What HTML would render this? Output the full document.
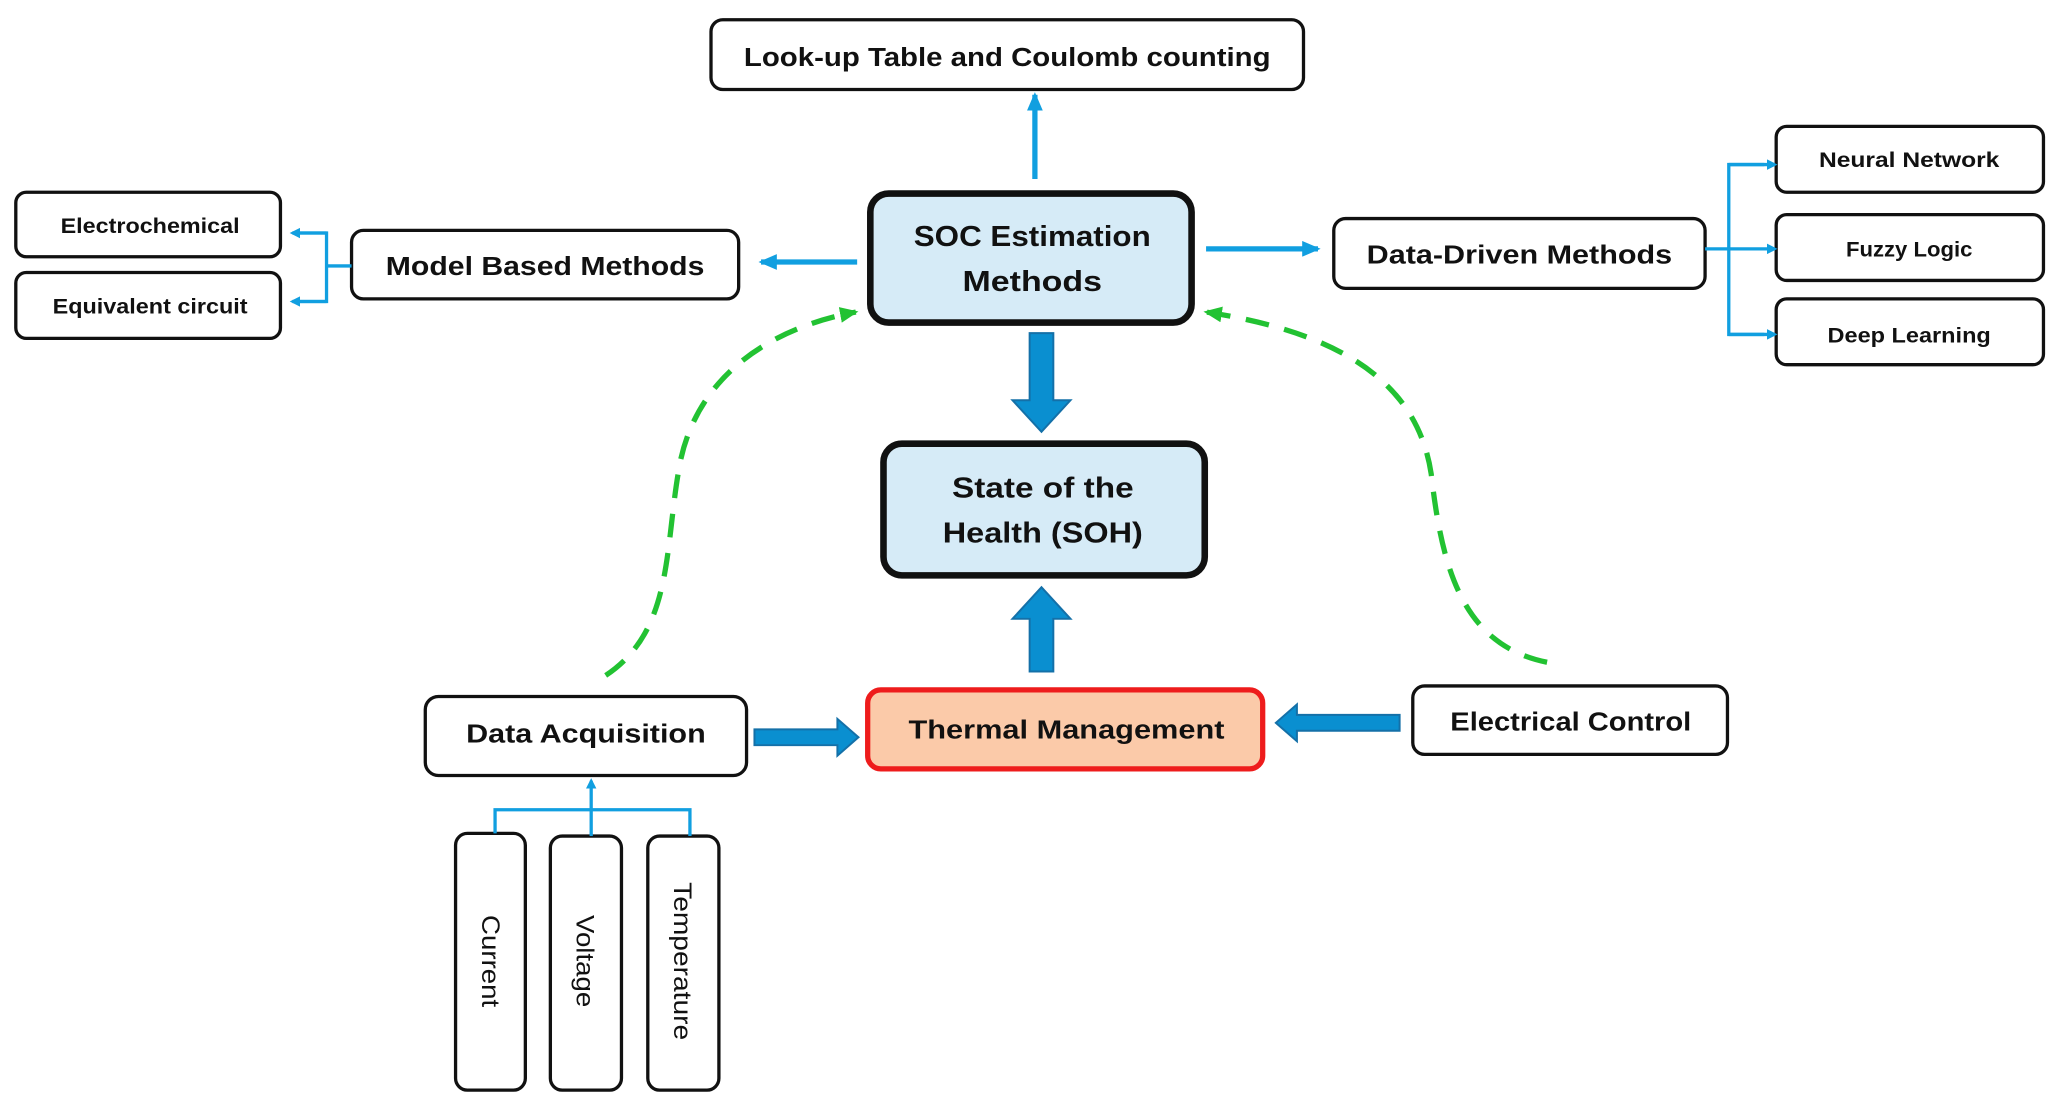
<!DOCTYPE html>
<html><head><meta charset="utf-8"><style>
html,body{margin:0;padding:0;background:#fff;}
svg{display:block;}
text{font-family:"Liberation Sans",sans-serif;font-weight:bold;fill:#111;}
</style></head><body>
<svg width="2054" height="1102" viewBox="0 0 1560 837" preserveAspectRatio="none" xmlns="http://www.w3.org/2000/svg">
<defs>
<marker id="ab" markerWidth="8" markerHeight="8" refX="6" refY="4" orient="auto" markerUnits="userSpaceOnUse"><path d="M0,0 L8,4 L0,8 Z" fill="#119fe0"/></marker>
<marker id="ab2" markerWidth="14" markerHeight="12" refX="12" refY="6" orient="auto" markerUnits="userSpaceOnUse"><path d="M0,0 L14,6 L0,12 Z" fill="#119fe0"/></marker>
<marker id="ag" markerWidth="14" markerHeight="12" refX="12" refY="6" orient="auto" markerUnits="userSpaceOnUse"><path d="M0,0 L14,6 L0,12 Z" fill="#22c232"/></marker>
</defs>
<g fill="#fff" stroke="#111" stroke-width="2.5">
<rect x="540" y="15" width="450" height="53" rx="9"/>
<rect x="267" y="175" width="294" height="52" rx="9"/>
<rect x="12" y="146" width="201" height="49" rx="8"/>
<rect x="12" y="207" width="201" height="50" rx="8"/>
<rect x="1013" y="166" width="282" height="53" rx="9"/>
<rect x="1349" y="96" width="203" height="50" rx="8"/>
<rect x="1349" y="163" width="203" height="50" rx="8"/>
<rect x="1349" y="227" width="203" height="50" rx="8"/>
<rect x="323" y="529" width="244" height="60" rx="10"/>
<rect x="1073" y="521" width="239" height="52" rx="9"/>
<rect x="346" y="633" width="53" height="195" rx="9"/>
<rect x="418" y="635" width="54" height="193" rx="9"/>
<rect x="492" y="635" width="54" height="193" rx="9"/>
</g>
<rect x="661" y="147" width="244" height="98" rx="14" fill="#d6ebf7" stroke="#111" stroke-width="5"/>
<rect x="671" y="337" width="244" height="100" rx="14" fill="#d6ebf7" stroke="#111" stroke-width="5"/>
<rect x="659" y="524" width="300" height="60" rx="10" fill="#fbcaa9" stroke="#ee1c1c" stroke-width="4"/>
<!-- thin arrows -->
<g stroke="#119fe0" stroke-width="4" fill="none">
<line x1="786" y1="136" x2="786" y2="72" marker-end="url(#ab2)"/>
<line x1="651" y1="199" x2="578" y2="199" marker-end="url(#ab2)"/>
<line x1="916" y1="189" x2="1001" y2="189" marker-end="url(#ab2)"/>
</g>
<g stroke="#119fe0" stroke-width="2.5" fill="none">
<line x1="267" y1="202" x2="248" y2="202"/>
<polyline points="224,177 248,177 248,229 224,229"/>
<line x1="248" y1="177" x2="222" y2="177" marker-end="url(#ab)"/>
<line x1="248" y1="229" x2="222" y2="229" marker-end="url(#ab)"/>
<line x1="1295" y1="189" x2="1313" y2="189"/>
<polyline points="1340,125 1313,125 1313,254 1340,254"/>
<line x1="1313" y1="125" x2="1348" y2="125" marker-end="url(#ab)"/>
<line x1="1313" y1="189" x2="1348" y2="189" marker-end="url(#ab)"/>
<line x1="1313" y1="254" x2="1348" y2="254" marker-end="url(#ab)"/>
<polyline points="376,633 376,615 524,615 524,635"/>
<line x1="449" y1="635" x2="449" y2="593" marker-end="url(#ab)"/>
</g>
<!-- thick arrows -->
<g fill="#0a8fd0" stroke="#1470a8" stroke-width="1.5">
<path d="M782,253 L800,253 L800,304 L813,304 L791,328 L769,304 L782,304 Z"/>
<path d="M782,510 L800,510 L800,470 L813,470 L791,446 L769,470 L782,470 Z"/>
<path d="M573,554 L636,554 L636,546 L652,560 L636,574 L636,566 L573,566 Z"/>
<path d="M1063,543 L985,543 L985,535 L969,549 L985,563 L985,555 L1063,555 Z"/>
</g>
<!-- green dashed -->
<g stroke="#22c232" stroke-width="4" fill="none" stroke-dasharray="18,12">
<path d="M460,513 C510,480 505,420 515,360 C525,290 580,250 650,237" marker-end="url(#ag)"/>
<path d="M1175,503 C1110,490 1095,430 1087,360 C1075,280 1000,250 916,237" marker-end="url(#ag)"/>
</g>
<!-- labels -->
<g text-anchor="middle" transform="scale(1,1)">
<text x="765" y="50" font-size="20" textLength="400" lengthAdjust="spacingAndGlyphs">Look-up Table and Coulomb counting</text>
<text x="414" y="209" font-size="20" textLength="242" lengthAdjust="spacingAndGlyphs">Model Based Methods</text>
<text x="114" y="177" font-size="16" textLength="136" lengthAdjust="spacingAndGlyphs">Electrochemical</text>
<text x="114" y="238" font-size="16" textLength="148" lengthAdjust="spacingAndGlyphs">Equivalent circuit</text>
<text x="1154" y="200" font-size="20" textLength="232" lengthAdjust="spacingAndGlyphs">Data-Driven Methods</text>
<text x="1450" y="127" font-size="16" textLength="137" lengthAdjust="spacingAndGlyphs">Neural Network</text>
<text x="1450" y="195" font-size="16" textLength="96" lengthAdjust="spacingAndGlyphs">Fuzzy Logic</text>
<text x="1450" y="260" font-size="16" textLength="124" lengthAdjust="spacingAndGlyphs">Deep Learning</text>
<text x="784" y="187" font-size="22" textLength="180" lengthAdjust="spacingAndGlyphs">SOC Estimation</text>
<text x="784" y="221" font-size="22" textLength="106" lengthAdjust="spacingAndGlyphs">Methods</text>
<text x="792" y="378" font-size="22" textLength="138" lengthAdjust="spacingAndGlyphs">State of the</text>
<text x="792" y="412" font-size="22" textLength="152" lengthAdjust="spacingAndGlyphs">Health (SOH)</text>
<text x="810" y="561" font-size="20" textLength="240" lengthAdjust="spacingAndGlyphs">Thermal Management</text>
<text x="445" y="564" font-size="20" textLength="182" lengthAdjust="spacingAndGlyphs">Data Acquisition</text>
<text x="1193" y="555" font-size="20" textLength="183" lengthAdjust="spacingAndGlyphs">Electrical Control</text>
</g>
<g font-size="19" text-anchor="middle" style="font-weight:normal">
<text transform="translate(366,730) rotate(90)" style="font-weight:normal" textLength="70" lengthAdjust="spacingAndGlyphs">Current</text>
<text transform="translate(438,730) rotate(90)" style="font-weight:normal" textLength="70" lengthAdjust="spacingAndGlyphs">Voltage</text>
<text transform="translate(512,730) rotate(90)" style="font-weight:normal" textLength="120" lengthAdjust="spacingAndGlyphs">Temperature</text>
</g>
</svg>
</body></html>
